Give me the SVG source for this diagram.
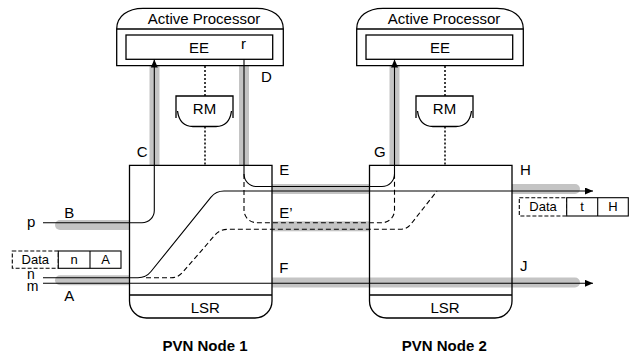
<svg xmlns="http://www.w3.org/2000/svg" width="631" height="356" viewBox="0 0 631 356">
  <style>
    text { font-family: "Liberation Sans", Arial, sans-serif; fill: #000; }
    .lbl { font-size: 15px; }
    .mid { text-anchor: middle; }
    .small { font-size: 13px; }
    .tight { font-size: 14px; }
    .title { font-size: 15px; font-weight: bold; text-anchor: middle; }
    .box { fill: none; stroke: #000; stroke-width: 1.3; }
    .apbox { fill: #fff; stroke: #000; stroke-width: 1.3; }
    .band { fill: #c4c4c4; stroke: none; }
    .wire { fill: none; stroke: #000; stroke-width: 1.1; }
    .dash { fill: none; stroke: #000; stroke-width: 1.1; stroke-dasharray: 5 3; }
    .dot { fill: none; stroke: #000; stroke-width: 1.5; stroke-dasharray: 2 2; }
    .pkt { fill: #fff; stroke: #000; stroke-width: 1.1; }
    .pktd { fill: #fff; stroke: #000; stroke-width: 1.1; stroke-dasharray: 4 2; }
  </style>
  <defs>
    <marker id="arrow" markerWidth="9" markerHeight="8" refX="8" refY="3.5" orient="auto" markerUnits="userSpaceOnUse">
      <path d="M0,0 L8,3.5 L0,7 Z" fill="#000"/>
    </marker>
  </defs>

  <rect width="631" height="356" fill="#fff"/>

  <!-- shaded link channels -->
  <g id="channels">
    <rect class="band" x="149.5" y="66" width="10" height="99.3"/>
    <rect class="band" x="239" y="66" width="10" height="99.3"/>
    <rect class="band" x="389.5" y="66" width="10" height="99.3"/>
    <path class="band" d="M129.5,220 H60 A5,5 0 0 0 60,230 H129.5 Z"/>
    <path class="band" d="M129.5,275.3 H60 A5,5 0 0 0 60,285.3 H129.5 Z"/>
    <rect class="band" x="272" y="184" width="97.3" height="10"/>
    <rect class="band" x="272" y="221.3" width="97.3" height="10"/>
    <path class="band" d="M512,184 H575 A5,5 0 0 1 575,194 H512 Z"/>
    <path class="band" d="M272,277.5 H575 A5,5 0 0 1 575,287.5 H272 Z"/>
  </g>

  <!-- PVN node 1 -->
  <g id="node1">
    <path class="apbox" d="M116.7,65.7 V29 C116.7,16 128,8.3 143,8.3 H257 C272,8.3 283.3,16 283.3,29 V65.7 Z"/>
    <path class="box" d="M116.7,29 H283.3"/>
    <rect class="box" x="126" y="35" width="146.7" height="24.3"/>
    <text class="lbl mid" x="204" y="24.3">Active Processor</text>
    <text class="lbl mid" x="199" y="52.7">EE</text>
    <text class="lbl" x="241" y="48.5">r</text>
    <path class="dot" d="M205,66 V96 M205,126.5 V165.3"/>
    <path class="box" d="M176,118 V96 H233 V118"/>
    <path class="box" d="M177.5,111 C179,122 185,126.5 193,126.5 H216 C224,126.5 230,122 231.5,111"/>
    <text class="lbl mid" x="204.5" y="114.3">RM</text>
    <path class="box" d="M129.5,165.3 H272 V301 A17,17 0 0 1 255,318 H146.5 A17,17 0 0 1 129.5,301 Z"/>
    <path class="box" d="M129.5,295 H272"/>
    <text class="lbl mid" x="205.3" y="312.7">LSR</text>
    <text class="title" x="205" y="351">PVN Node 1</text>
  </g>

  <!-- PVN node 2 -->
  <g id="node2">
    <path class="apbox" d="M356.7,65.7 V29 C356.7,16 368,8.3 383,8.3 H497 C512,8.3 523.3,16 523.3,29 V65.7 Z"/>
    <path class="box" d="M356.7,29 H523.3"/>
    <rect class="box" x="366" y="35" width="146.7" height="24.3"/>
    <text class="lbl mid" x="444" y="24.3">Active Processor</text>
    <text class="lbl mid" x="440" y="52.7">EE</text>
    <path class="dot" d="M445,66 V96 M445,126.5 V165.3"/>
    <path class="box" d="M416,118 V96 H473 V118"/>
    <path class="box" d="M417.5,111 C419,122 425,126.5 433,126.5 H456 C464,126.5 470,122 471.5,111"/>
    <text class="lbl mid" x="444.5" y="114.3">RM</text>
    <path class="box" d="M369.5,165.3 H512 V301 A17,17 0 0 1 495,318 H386.5 A17,17 0 0 1 369.5,301 Z"/>
    <path class="box" d="M369.5,295 H512"/>
    <text class="lbl mid" x="445" y="312.7">LSR</text>
    <text class="title" x="444.3" y="351">PVN Node 2</text>
  </g>

  <!-- label-switched paths -->
  <g id="connectors">
    <!-- p: into node 1, up to EE -->
    <path class="wire" d="M43,222.7 H142 A12.3,12.3 0 0 0 154.3,210.4 V59.5" marker-end="url(#arrow)"/>
    <!-- r: from EE of node 1 over E to EE of node 2 -->
    <path class="wire" d="M244,59.3 V174 A12.5,12.5 0 0 0 256.5,186.5 H382 A12.5,12.5 0 0 0 394.5,174 V59.5" marker-end="url(#arrow)"/>
    <!-- alternative over E' -->
    <path class="dash" d="M244,174 V210 A12.7,12.7 0 0 0 256.7,222.7 H382 A12.5,12.5 0 0 0 394.5,210.2 V174"/>
    <!-- n: switched across to H -->
    <path class="wire" d="M43,277.7 H138 Q146,277.7 151,271.5 L211,197.2 Q216,191 224,191 H593" marker-end="url(#arrow)"/>
    <!-- alternative for n via E' -->
    <path class="dash" d="M146,277.7 H171 Q178,277.7 182.5,272.5 L215,235 Q220,229.3 228,229.3 H400 Q407,229.3 411,224 L437,191"/>
    <!-- m: straight through to J -->
    <path class="wire" d="M43,283.3 H593" marker-end="url(#arrow)"/>
  </g>

  <!-- packets -->
  <g id="packet-in">
    <rect class="pktd" x="12.3" y="251" width="46" height="17.3"/>
    <rect class="pkt" x="58.3" y="251" width="62.7" height="17.3"/>
    <path class="pkt" d="M90,251 V268.3"/>
    <text class="small mid" x="35.3" y="264">Data</text>
    <text class="small mid" x="74" y="264">n</text>
    <text class="small mid" x="105.5" y="264">A</text>
  </g>
  <g id="packet-out">
    <rect class="pktd" x="519.3" y="197.7" width="47.4" height="18.3"/>
    <rect class="pkt" x="566.7" y="197.7" width="61.6" height="18.3"/>
    <path class="pkt" d="M597.7,197.7 V216"/>
    <text class="small mid" x="543" y="211">Data</text>
    <text class="small mid" x="582" y="211">t</text>
    <text class="small mid" x="613" y="211">H</text>
  </g>

  <!-- port and path labels -->
  <g id="labels">
    <text class="lbl" x="136.7" y="156.7">C</text>
    <text class="lbl" x="261" y="81.7">D</text>
    <text class="lbl" x="374" y="156.7">G</text>
    <text class="lbl" x="64.3" y="218.3">B</text>
    <text class="lbl" x="27" y="227">p</text>
    <text class="tight" x="27" y="278.6">n</text>
    <text class="tight" x="26.7" y="291">m</text>
    <text class="lbl" x="64.3" y="300.7">A</text>
    <text class="lbl" x="279.3" y="175">E</text>
    <text class="lbl" x="279.3" y="218.3">E’</text>
    <text class="lbl" x="279.3" y="273.3">F</text>
    <text class="lbl" x="520" y="175">H</text>
    <text class="lbl" x="520" y="270.7">J</text>
  </g>
</svg>
